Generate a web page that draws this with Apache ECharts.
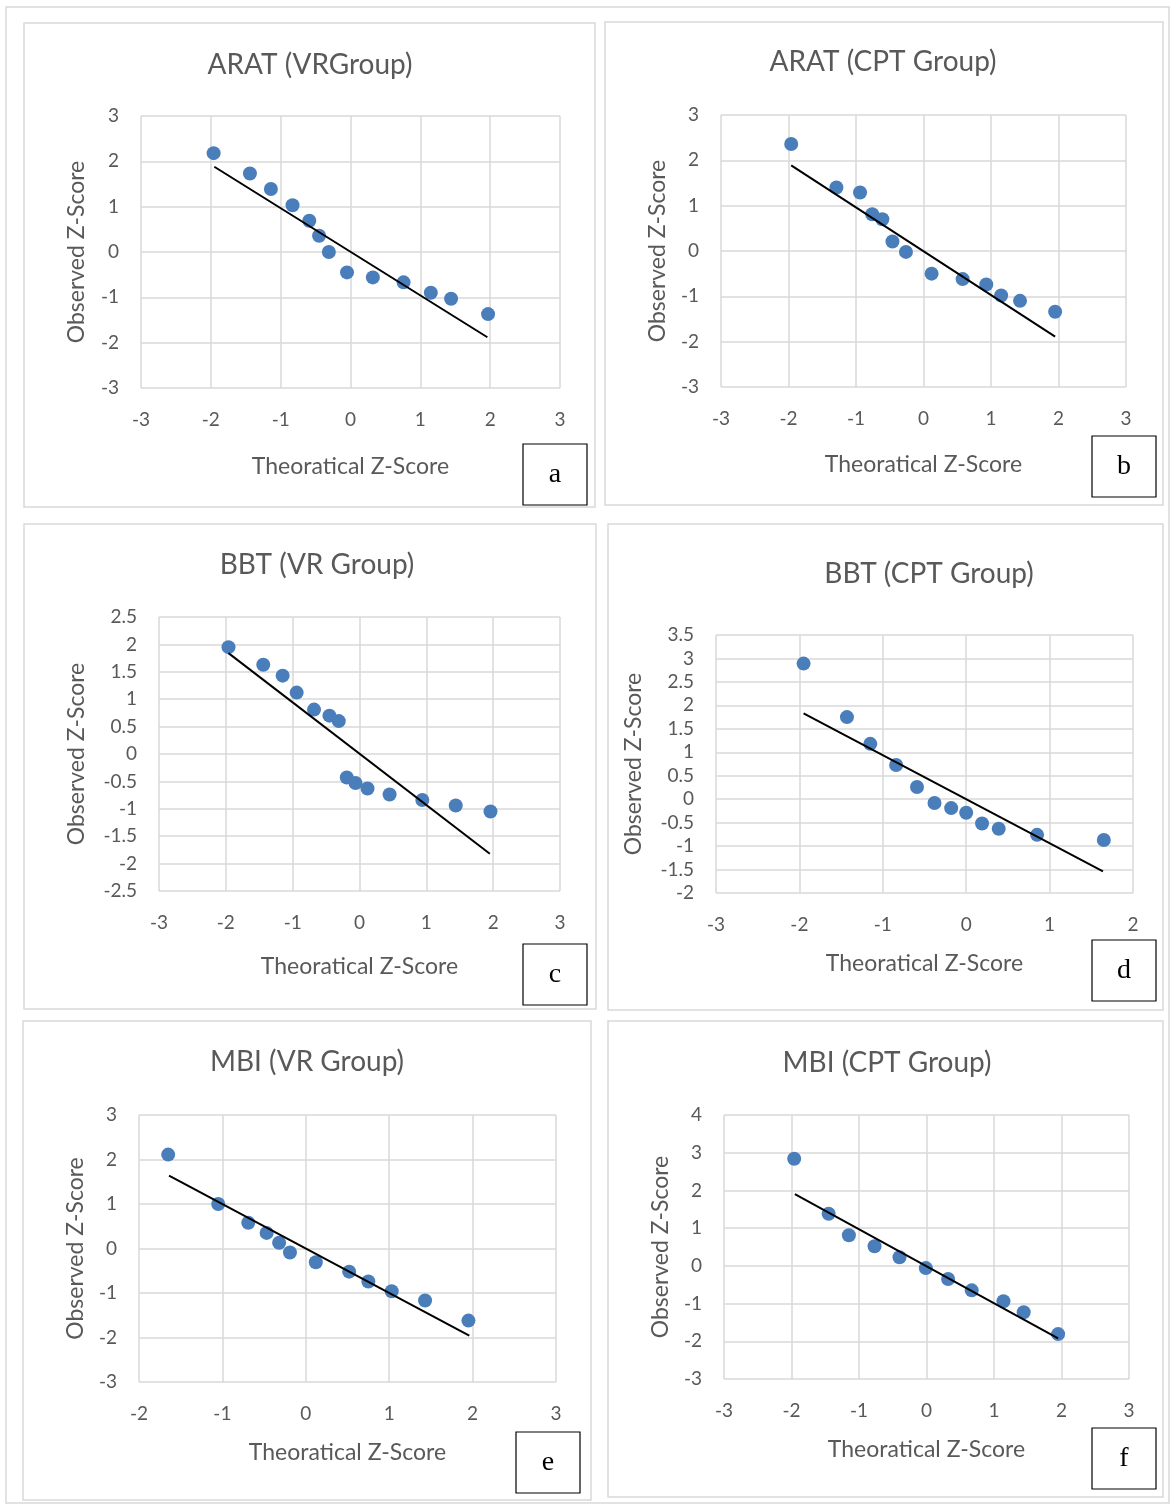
<!DOCTYPE html>
<html>
<head>
<meta charset="utf-8">
<script src="https://cdn.jsdelivr.net/npm/echarts@6/dist/echarts.min.js"></script>
<style>
html,body{margin:0;padding:0;background:#fff;}
#main{width:1175px;height:1506px;}
</style>
</head>
<body>
<div id="main"></div>
<script>
// Q-Q plot values (theoretical z, observed z)
var titles = ['ARAT (VRGroup)', 'ARAT (CPT Group)', 'BBT (VR Group)', 'BBT (CPT Group)', 'MBI (VR Group)', 'MBI (CPT Group)'];
var tags = ['a', 'b', 'c', 'd', 'e', 'f'];

var xA = [-1.96, -1.44, -1.14, -0.83, -0.59, -0.45, -0.31, -0.05, 0.32, 0.76, 1.15, 1.44, 1.97];
var yA = [2.18, 1.73, 1.39, 1.03, 0.69, 0.36, 0.0, -0.45, -0.56, -0.67, -0.90, -1.03, -1.37];
var fitA = [[-1.95, 1.88], [1.96, -1.88]];

var xB = [-1.96, -1.29, -0.94, -0.76, -0.61, -0.46, -0.26, 0.12, 0.58, 0.93, 1.15, 1.43, 1.95];
var yB = [2.36, 1.40, 1.29, 0.81, 0.70, 0.21, -0.02, -0.50, -0.62, -0.74, -0.98, -1.10, -1.34];
var fitB = [[-1.96, 1.89], [1.95, -1.89]];

var xC = [-1.96, -1.44, -1.15, -0.94, -0.68, -0.45, -0.31, -0.19, -0.06, 0.12, 0.45, 0.94, 1.44, 1.96];
var yC = [1.95, 1.63, 1.43, 1.12, 0.81, 0.70, 0.60, -0.43, -0.53, -0.63, -0.74, -0.84, -0.94, -1.05];
var fitC = [[-1.96, 1.84], [1.95, -1.82]];

var xD = [-1.95, -1.43, -1.15, -0.84, -0.59, -0.38, -0.18, 0.0, 0.19, 0.39, 0.85, 1.65];
var yD = [2.89, 1.75, 1.18, 0.73, 0.26, -0.08, -0.19, -0.29, -0.52, -0.63, -0.76, -0.87];
var fitD = [[-1.95, 1.83], [1.64, -1.54]];

var xE = [-1.65, -1.05, -0.69, -0.47, -0.32, -0.19, 0.12, 0.52, 0.75, 1.03, 1.43, 1.95];
var yE = [2.11, 1.00, 0.58, 0.35, 0.13, -0.09, -0.31, -0.52, -0.74, -0.96, -1.17, -1.62];
var fitE = [[-1.64, 1.64], [1.96, -1.96]];

var xF = [-1.96, -1.45, -1.15, -0.77, -0.40, -0.01, 0.32, 0.67, 1.14, 1.44, 1.95];
var yF = [2.84, 1.38, 0.81, 0.52, 0.23, -0.06, -0.35, -0.65, -0.94, -1.23, -1.81];
var fitF = [[-1.95, 1.90], [1.95, -1.92]];

// axis ranges: [xmin, xmax, xstep, ymin, ymax, ystep]
var ranges = [
    [-3, 3, 1, -3, 3, 1],
    [-3, 3, 1, -3, 3, 1],
    [-3, 3, 1, -2.5, 2.5, 0.5],
    [-3, 2, 1, -2, 3.5, 0.5],
    [-2, 3, 1, -3, 3, 1],
    [-3, 3, 1, -3, 4, 1]
];

var xs = [xA, xB, xC, xD, xE, xF];
var ys = [yA, yB, yC, yD, yE, yF];
var fits = [fitA, fitB, fitC, fitD, fitE, fitF];

// layout (pixels)
var grids = [
    {left: 141, top: 116, width: 419, height: 272},
    {left: 721, top: 115, width: 405, height: 272},
    {left: 159, top: 617, width: 401, height: 274},
    {left: 716, top: 635, width: 417, height: 258},
    {left: 139, top: 1115, width: 417, height: 267},
    {left: 724, top: 1115, width: 405, height: 264}
];
var yNameGap = [53, 52, 71, 71, 52, 52];
var xNameGap = [67, 66, 64, 59, 59, 59];
var titlePos = [[310, 51], [883, 48], [317, 551], [929, 560], [307, 1048], [887, 1049]];
var panels = [
    [24, 23, 571, 484], [605, 22, 558, 483],
    [24, 524, 572, 485], [608, 524, 555, 486],
    [23, 1021, 568, 479], [608, 1021, 555, 476]
];
var tagBoxes = [[523, 444], [1092, 436], [523, 944], [1092, 940], [516, 1432], [1092, 1428]];

var GRAY = '#595959', GRID = '#d9d9d9', FONT = 'Lato, "Open Sans", sans-serif';

var option = {
    animation: false,
    backgroundColor: '#fff',
    title: [], grid: [], xAxis: [], yAxis: [], series: [], graphic: []
};

option.graphic.push({
    type: 'rect', shape: {x: 6, y: 7, width: 1163, height: 1496},
    style: {fill: 'none', stroke: GRID, lineWidth: 1.5}, silent: true, z: -1
});

for (var i = 0; i < 6; i++) {
    var r = ranges[i];
    option.title.push({
        text: titles[i], left: titlePos[i][0], top: titlePos[i][1], textAlign: 'center', padding: 0,
        textStyle: {color: GRAY, fontSize: 28, fontWeight: 'normal', fontFamily: FONT}
    });
    option.grid.push(grids[i]);
    option.xAxis.push({
        type: 'value', gridIndex: i, min: r[0], max: r[1], interval: r[2],
        name: 'Theoratical Z-Score', nameLocation: 'middle', nameGap: xNameGap[i],
        nameTextStyle: {color: GRAY, fontSize: 23, fontFamily: FONT},
        axisLine: {show: false}, axisTick: {show: false},
        axisLabel: {color: GRAY, fontSize: 19, fontFamily: FONT, margin: 22},
        splitLine: {show: true, lineStyle: {color: GRID, width: 1.5}}
    });
    option.yAxis.push({
        type: 'value', gridIndex: i, min: r[3], max: r[4], interval: r[5],
        name: 'Observed Z-Score', nameLocation: 'middle', nameGap: yNameGap[i],
        nameTextStyle: {color: GRAY, fontSize: 23, fontFamily: FONT},
        axisLine: {show: false}, axisTick: {show: false},
        axisLabel: {color: GRAY, fontSize: 19, fontFamily: FONT, margin: 22},
        splitLine: {show: true, lineStyle: {color: GRID, width: 1.5}}
    });
    var pts = xs[i].map(function (x, k) { return [x, ys[i][k]]; });
    option.series.push({
        type: 'scatter', xAxisIndex: i, yAxisIndex: i, data: pts,
        symbolSize: 14, itemStyle: {color: '#4a7ebb', opacity: 1}, z: 3
    });
    option.series.push({
        type: 'line', xAxisIndex: i, yAxisIndex: i, data: fits[i],
        symbol: 'none', lineStyle: {color: '#000', width: 2}, z: 4
    });
    var p = panels[i];
    option.graphic.push({
        type: 'rect', shape: {x: p[0], y: p[1], width: p[2], height: p[3]},
        style: {fill: 'none', stroke: GRID, lineWidth: 1.5}, silent: true
    });
    var t = tagBoxes[i];
    option.graphic.push({
        type: 'rect', shape: {x: t[0], y: t[1], width: 64, height: 61},
        style: {fill: '#fff', stroke: '#000', lineWidth: 1.2}, silent: true, z: 10
    });
    option.graphic.push({
        type: 'text', x: t[0] + 32, y: t[1] + 31,
        style: {text: tags[i], fill: '#000', font: '28px "Liberation Serif", "DejaVu Serif", serif',
            textAlign: 'center', textVerticalAlign: 'middle'}, silent: true, z: 11
    });
}

var chart = echarts.init(document.getElementById('main'));
chart.setOption(option);
</script>
</body>
</html>
